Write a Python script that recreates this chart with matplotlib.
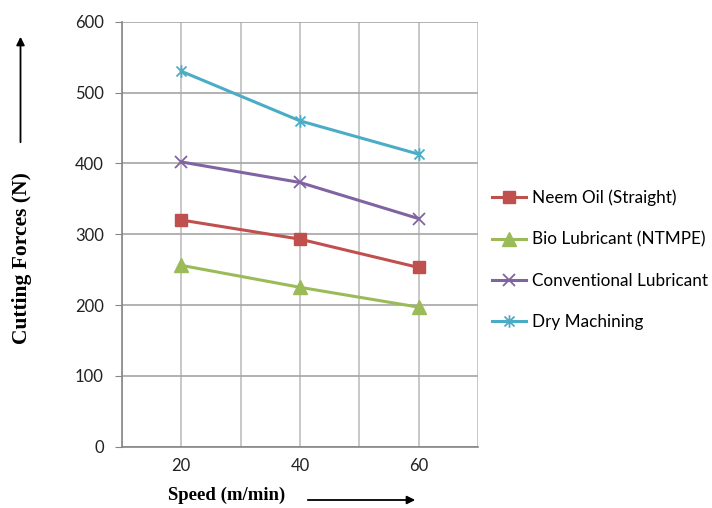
import matplotlib
matplotlib.use("Agg")
import matplotlib.pyplot as plt
from matplotlib.path import Path

categories = ["20", "40", "60"]
neem_oil = [320, 293, 253]
bio_lubricant = [256, 225, 197]
conventional = [402, 373, 322]
dry_machining = [530, 460, 413]
y_ticks = [0, 100, 200, 300, 400, 500, 600]

series = [
    ("Neem Oil (Straight)", neem_oil, "#C0504D", "s"),
    ("Bio Lubricant (NTMPE)", bio_lubricant, "#9BBB59", "^"),
    ("Conventional Lubricant", conventional, "#8064A2", "x"),
    ("Dry Machining", dry_machining, "#4BACC6", "star"),
]

star = Path([(-1, -1), (1, 1), (-1, 1), (1, -1), (0, -1.25), (0, 1.25)],
            [Path.MOVETO, Path.LINETO, Path.MOVETO, Path.LINETO, Path.MOVETO, Path.LINETO])

fig = plt.figure(figsize=(7.12, 5.08), dpi=100)
ax = fig.add_axes([0.1713, 0.1207, 0.5, 0.8366])

x = list(range(len(categories)))
for name, vals, col, mk in series:
    if mk == "s":
        ax.plot(x, vals, color=col, lw=2.2, marker="s", ms=9, mec=col, mfc=col, label=name, zorder=3)
    elif mk == "^":
        ax.plot(x, vals, color=col, lw=2.2, marker="^", ms=10, mec=col, mfc=col, label=name, zorder=3)
    elif mk == "x":
        ax.plot(x, vals, color=col, lw=2.2, marker="x", ms=9, mew=1.3, mec=col, label=name, zorder=3)
    else:
        ax.plot(x, vals, color=col, lw=2.2, marker=star, ms=9, mew=1.3, mec=col, label=name, zorder=3)

ax.set_xlim(-0.5, 2.5)
ax.set_ylim(0, 600)
ax.set_yticks(y_ticks)
ax.set_xticks(x)
ax.set_xticklabels(categories)
ax.set_xticks([-0.5, 0.5, 1.5, 2.5], minor=True)
ax.grid(True, which="both", axis="x", color="#BFBFBF", lw=1.2, zorder=0)
ax.grid(True, which="major", axis="y", color="#A6A6A6", lw=1.2, zorder=0)
for s in ax.spines.values():
    s.set_visible(False)
ax.spines["left"].set_visible(True)
ax.spines["left"].set_color("#868686")
ax.spines["left"].set_linewidth(1.2)
ax.spines["bottom"].set_visible(True)
ax.spines["bottom"].set_color("#868686")
ax.spines["bottom"].set_linewidth(1.2)
ax.tick_params(axis="y", which="major", length=5, color="#868686", labelsize=12, pad=8)
ax.tick_params(axis="x", which="both", length=0, labelsize=12, pad=8)
for lab in ax.get_xticklabels() + ax.get_yticklabels():
    lab.set_fontfamily("Lato")
    lab.set_color("#222222")

leg = ax.legend(loc="center left", frameon=False,
                prop={"family": "Lato", "size": 12.3}, handlelength=2.0, handletextpad=0.35,
                labelspacing=1.48, borderpad=0, borderaxespad=0)
leg.set_bbox_to_anchor((1.039, 0.439), transform=ax.transAxes)

# axis labels with arrows
fig.text(0.031, 0.492, "Cutting Forces (N)", rotation=90, ha="center", va="center",
         family="Liberation Serif", weight="bold", fontsize=15.5)
fig.text(0.236, 0.008, "Speed (m/min)", ha="left", va="bottom",
         family="Liberation Serif", weight="bold", fontsize=13.5)
fig.patches.append(matplotlib.patches.FancyArrowPatch(
    (20.5 / 712, 1 - 145 / 508), (20.5 / 712, 1 - 34 / 508), transform=fig.transFigure,
    arrowstyle="-|>", mutation_scale=12, color="black", lw=1.3))
fig.patches.append(matplotlib.patches.FancyArrowPatch(
    (305 / 712, 1 - 500 / 508), (418 / 712, 1 - 500 / 508), transform=fig.transFigure,
    arrowstyle="-|>", mutation_scale=12, color="black", lw=1.3))

fig.savefig("out.png", dpi=100)
